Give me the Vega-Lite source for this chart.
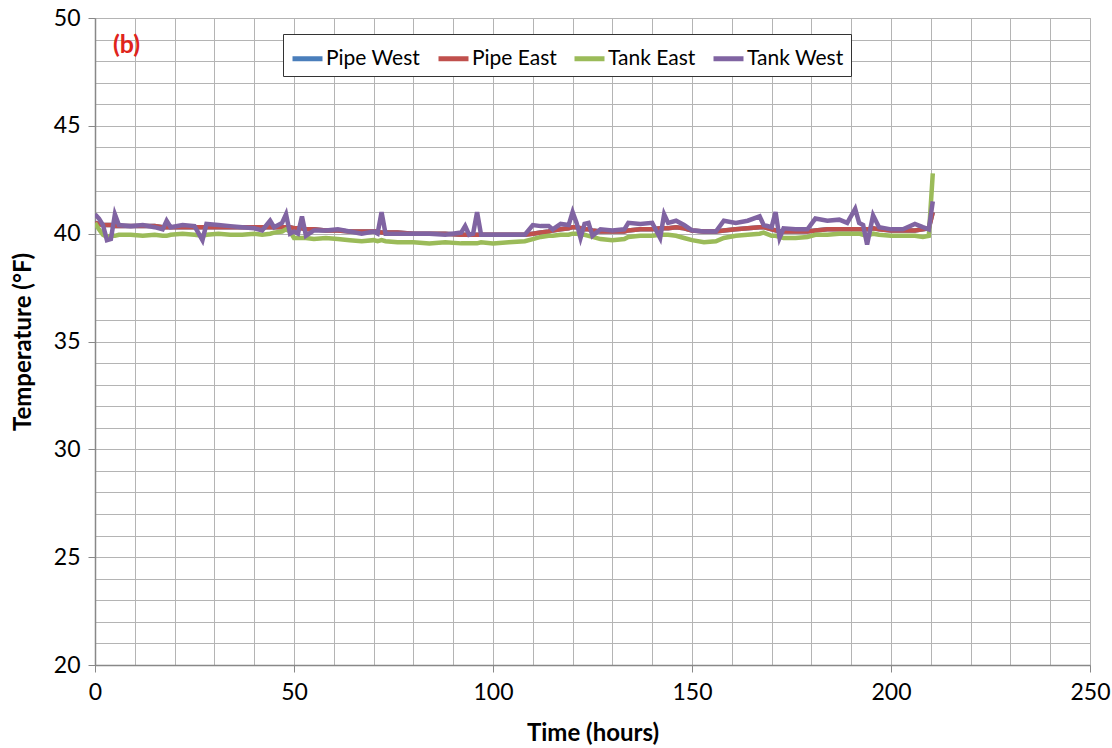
{
  "$schema": "https://vega.github.io/schema/vega-lite/v6.json",
  "width": 995,
  "height": 647,
  "autosize": {"type": "none"},
  "padding": {"left": 95, "top": 18, "right": 22, "bottom": 83},
  "background": "white",
  "title": {"text": "(b)", "anchor": "start", "orient": "top", "frame": "group", "color": "#e0241b", "fontSize": 25, "fontWeight": "bold", "font": "Lato", "dx": 18, "dy": 51, "offset": 0},
  "data": {"values": [
    {"t": 0, "Pipe West": 40.5, "Pipe East": 40.5, "Tank East": 40.5, "Tank West": 40.9},
    {"t": 1, "Pipe West": 40.45, "Pipe East": 40.45, "Tank East": 40.2, "Tank West": 40.7},
    {"t": 2, "Pipe West": 40.4, "Pipe East": 40.4, "Tank East": 39.95, "Tank West": 40.4},
    {"t": 3, "Pipe West": 40.4, "Pipe East": 40.4, "Tank East": 39.85, "Tank West": 39.7},
    {"t": 4, "Pipe West": 40.4, "Pipe East": 40.4, "Tank East": 39.9, "Tank West": 39.75},
    {"t": 5, "Pipe West": 40.35, "Pipe East": 40.35, "Tank East": 39.9, "Tank West": 40.9},
    {"t": 6, "Pipe West": 40.35, "Pipe East": 40.35, "Tank East": 39.95, "Tank West": 40.4},
    {"t": 9, "Pipe West": 40.35, "Pipe East": 40.35, "Tank East": 39.95, "Tank West": 40.35},
    {"t": 12, "Pipe West": 40.35, "Pipe East": 40.35, "Tank East": 39.9, "Tank West": 40.4},
    {"t": 15, "Pipe West": 40.35, "Pipe East": 40.35, "Tank East": 39.95, "Tank West": 40.3},
    {"t": 17, "Pipe West": 40.3, "Pipe East": 40.3, "Tank East": 39.9, "Tank West": 40.2},
    {"t": 18, "Pipe West": 40.3, "Pipe East": 40.3, "Tank East": 39.9, "Tank West": 40.6},
    {"t": 19, "Pipe West": 40.3, "Pipe East": 40.3, "Tank East": 39.95, "Tank West": 40.3},
    {"t": 22, "Pipe West": 40.3, "Pipe East": 40.3, "Tank East": 40.0, "Tank West": 40.4},
    {"t": 25, "Pipe West": 40.3, "Pipe East": 40.3, "Tank East": 39.95, "Tank West": 40.35},
    {"t": 27, "Pipe West": 40.3, "Pipe East": 40.3, "Tank East": 39.9, "Tank West": 39.7},
    {"t": 28, "Pipe West": 40.3, "Pipe East": 40.3, "Tank East": 39.95, "Tank West": 40.45},
    {"t": 31, "Pipe West": 40.3, "Pipe East": 40.3, "Tank East": 40.0, "Tank West": 40.4},
    {"t": 34, "Pipe West": 40.3, "Pipe East": 40.3, "Tank East": 39.95, "Tank West": 40.35},
    {"t": 37, "Pipe West": 40.3, "Pipe East": 40.3, "Tank East": 39.95, "Tank West": 40.3},
    {"t": 40, "Pipe West": 40.3, "Pipe East": 40.3, "Tank East": 40.0, "Tank West": 40.25},
    {"t": 42, "Pipe West": 40.3, "Pipe East": 40.3, "Tank East": 39.95, "Tank West": 40.15},
    {"t": 44, "Pipe West": 40.3, "Pipe East": 40.3, "Tank East": 40.0, "Tank West": 40.6},
    {"t": 45, "Pipe West": 40.3, "Pipe East": 40.3, "Tank East": 40.05, "Tank West": 40.3},
    {"t": 47, "Pipe West": 40.3, "Pipe East": 40.3, "Tank East": 40.1, "Tank West": 40.5},
    {"t": 48, "Pipe West": 40.3, "Pipe East": 40.3, "Tank East": 40.2, "Tank West": 40.9},
    {"t": 49, "Pipe West": 40.3, "Pipe East": 40.3, "Tank East": 40.1, "Tank West": 40.0},
    {"t": 50, "Pipe West": 40.25, "Pipe East": 40.25, "Tank East": 39.8, "Tank West": 40.1},
    {"t": 51, "Pipe West": 40.25, "Pipe East": 40.25, "Tank East": 39.8, "Tank West": 40.0},
    {"t": 52, "Pipe West": 40.25, "Pipe East": 40.25, "Tank East": 39.8, "Tank West": 40.8},
    {"t": 53, "Pipe West": 40.2, "Pipe East": 40.2, "Tank East": 39.8, "Tank West": 39.9},
    {"t": 55, "Pipe West": 40.2, "Pipe East": 40.2, "Tank East": 39.75, "Tank West": 40.15},
    {"t": 58, "Pipe West": 40.15, "Pipe East": 40.15, "Tank East": 39.8, "Tank West": 40.15},
    {"t": 61, "Pipe West": 40.15, "Pipe East": 40.15, "Tank East": 39.75, "Tank West": 40.2},
    {"t": 64, "Pipe West": 40.1, "Pipe East": 40.1, "Tank East": 39.7, "Tank West": 40.1},
    {"t": 67, "Pipe West": 40.1, "Pipe East": 40.1, "Tank East": 39.65, "Tank West": 40.0},
    {"t": 70, "Pipe West": 40.1, "Pipe East": 40.1, "Tank East": 39.7, "Tank West": 40.1},
    {"t": 71, "Pipe West": 40.1, "Pipe East": 40.1, "Tank East": 39.65, "Tank West": 40.0},
    {"t": 72, "Pipe West": 40.05, "Pipe East": 40.05, "Tank East": 39.7, "Tank West": 41.0},
    {"t": 73, "Pipe West": 40.05, "Pipe East": 40.05, "Tank East": 39.65, "Tank West": 40.0},
    {"t": 76, "Pipe West": 40.05, "Pipe East": 40.05, "Tank East": 39.6, "Tank West": 40.0},
    {"t": 80, "Pipe West": 40.0, "Pipe East": 40.0, "Tank East": 39.6, "Tank West": 40.0},
    {"t": 84, "Pipe West": 40.0, "Pipe East": 40.0, "Tank East": 39.55, "Tank West": 40.0},
    {"t": 88, "Pipe West": 40.0, "Pipe East": 40.0, "Tank East": 39.6, "Tank West": 39.95},
    {"t": 92, "Pipe West": 39.95, "Pipe East": 39.95, "Tank East": 39.55, "Tank West": 40.05},
    {"t": 93, "Pipe West": 39.95, "Pipe East": 39.95, "Tank East": 39.55, "Tank West": 40.35},
    {"t": 94, "Pipe West": 39.95, "Pipe East": 39.95, "Tank East": 39.55, "Tank West": 39.95},
    {"t": 95, "Pipe West": 39.95, "Pipe East": 39.95, "Tank East": 39.55, "Tank West": 40.0},
    {"t": 96, "Pipe West": 39.95, "Pipe East": 39.95, "Tank East": 39.55, "Tank West": 41.0},
    {"t": 97, "Pipe West": 39.95, "Pipe East": 39.95, "Tank East": 39.6, "Tank West": 39.95},
    {"t": 100, "Pipe West": 39.95, "Pipe East": 39.95, "Tank East": 39.55, "Tank West": 39.95},
    {"t": 104, "Pipe West": 39.95, "Pipe East": 39.95, "Tank East": 39.6, "Tank West": 39.95},
    {"t": 108, "Pipe West": 39.95, "Pipe East": 39.95, "Tank East": 39.65, "Tank West": 39.95},
    {"t": 110, "Pipe West": 40.0, "Pipe East": 40.0, "Tank East": 39.75, "Tank West": 40.4},
    {"t": 112, "Pipe West": 40.05, "Pipe East": 40.05, "Tank East": 39.85, "Tank West": 40.35},
    {"t": 114, "Pipe West": 40.1, "Pipe East": 40.1, "Tank East": 39.9, "Tank West": 40.35},
    {"t": 115, "Pipe West": 40.15, "Pipe East": 40.15, "Tank East": 39.9, "Tank West": 40.2},
    {"t": 117, "Pipe West": 40.2, "Pipe East": 40.2, "Tank East": 39.95, "Tank West": 40.45},
    {"t": 119, "Pipe West": 40.25, "Pipe East": 40.25, "Tank East": 39.95, "Tank West": 40.4},
    {"t": 120, "Pipe West": 40.3, "Pipe East": 40.3, "Tank East": 40.0, "Tank West": 41.0},
    {"t": 121, "Pipe West": 40.3, "Pipe East": 40.3, "Tank East": 40.0, "Tank West": 40.5},
    {"t": 122, "Pipe West": 40.25, "Pipe East": 40.25, "Tank East": 39.95, "Tank West": 39.8},
    {"t": 123, "Pipe West": 40.2, "Pipe East": 40.2, "Tank East": 39.95, "Tank West": 40.45},
    {"t": 124, "Pipe West": 40.2, "Pipe East": 40.2, "Tank East": 39.9, "Tank West": 40.5},
    {"t": 125, "Pipe West": 40.15, "Pipe East": 40.15, "Tank East": 39.85, "Tank West": 39.9},
    {"t": 127, "Pipe West": 40.1, "Pipe East": 40.1, "Tank East": 39.75, "Tank West": 40.2},
    {"t": 130, "Pipe West": 40.1, "Pipe East": 40.1, "Tank East": 39.7, "Tank West": 40.15},
    {"t": 133, "Pipe West": 40.1, "Pipe East": 40.1, "Tank East": 39.75, "Tank West": 40.2},
    {"t": 134, "Pipe West": 40.15, "Pipe East": 40.15, "Tank East": 39.85, "Tank West": 40.5},
    {"t": 137, "Pipe West": 40.2, "Pipe East": 40.2, "Tank East": 39.9, "Tank West": 40.45},
    {"t": 140, "Pipe West": 40.2, "Pipe East": 40.2, "Tank East": 39.9, "Tank West": 40.5},
    {"t": 142, "Pipe West": 40.25, "Pipe East": 40.25, "Tank East": 39.95, "Tank West": 39.8},
    {"t": 143, "Pipe West": 40.25, "Pipe East": 40.25, "Tank East": 39.95, "Tank West": 40.9},
    {"t": 144, "Pipe West": 40.25, "Pipe East": 40.25, "Tank East": 39.95, "Tank West": 40.5},
    {"t": 146, "Pipe West": 40.3, "Pipe East": 40.3, "Tank East": 39.9, "Tank West": 40.6},
    {"t": 148, "Pipe West": 40.25, "Pipe East": 40.25, "Tank East": 39.8, "Tank West": 40.4},
    {"t": 150, "Pipe West": 40.15, "Pipe East": 40.15, "Tank East": 39.7, "Tank West": 40.15},
    {"t": 153, "Pipe West": 40.1, "Pipe East": 40.1, "Tank East": 39.6, "Tank West": 40.1},
    {"t": 156, "Pipe West": 40.1, "Pipe East": 40.1, "Tank East": 39.65, "Tank West": 40.1},
    {"t": 158, "Pipe West": 40.15, "Pipe East": 40.15, "Tank East": 39.8, "Tank West": 40.6},
    {"t": 161, "Pipe West": 40.2, "Pipe East": 40.2, "Tank East": 39.9, "Tank West": 40.5},
    {"t": 164, "Pipe West": 40.25, "Pipe East": 40.25, "Tank East": 39.95, "Tank West": 40.6},
    {"t": 167, "Pipe West": 40.3, "Pipe East": 40.3, "Tank East": 40.0, "Tank West": 40.8},
    {"t": 168, "Pipe West": 40.3, "Pipe East": 40.3, "Tank East": 40.05, "Tank West": 40.4},
    {"t": 170, "Pipe West": 40.2, "Pipe East": 40.2, "Tank East": 39.9, "Tank West": 40.3},
    {"t": 171, "Pipe West": 40.15, "Pipe East": 40.15, "Tank East": 39.9, "Tank West": 41.0},
    {"t": 172, "Pipe West": 40.1, "Pipe East": 40.1, "Tank East": 39.85, "Tank West": 39.8},
    {"t": 173, "Pipe West": 40.1, "Pipe East": 40.1, "Tank East": 39.8, "Tank West": 40.25},
    {"t": 176, "Pipe West": 40.1, "Pipe East": 40.1, "Tank East": 39.8, "Tank West": 40.2},
    {"t": 179, "Pipe West": 40.1, "Pipe East": 40.1, "Tank East": 39.85, "Tank West": 40.2},
    {"t": 181, "Pipe West": 40.15, "Pipe East": 40.15, "Tank East": 39.95, "Tank West": 40.7},
    {"t": 184, "Pipe West": 40.2, "Pipe East": 40.2, "Tank East": 39.95, "Tank West": 40.6},
    {"t": 187, "Pipe West": 40.2, "Pipe East": 40.2, "Tank East": 40.0, "Tank West": 40.65},
    {"t": 189, "Pipe West": 40.2, "Pipe East": 40.2, "Tank East": 40.0, "Tank West": 40.5},
    {"t": 191, "Pipe West": 40.2, "Pipe East": 40.2, "Tank East": 40.0, "Tank West": 41.15},
    {"t": 192, "Pipe West": 40.2, "Pipe East": 40.2, "Tank East": 40.0, "Tank West": 40.5},
    {"t": 193, "Pipe West": 40.2, "Pipe East": 40.2, "Tank East": 39.95, "Tank West": 40.4},
    {"t": 194, "Pipe West": 40.2, "Pipe East": 40.2, "Tank East": 39.9, "Tank West": 39.5},
    {"t": 195.5, "Pipe West": 40.25, "Pipe East": 40.25, "Tank East": 40.0, "Tank West": 40.85},
    {"t": 197, "Pipe West": 40.2, "Pipe East": 40.2, "Tank East": 39.95, "Tank West": 40.3},
    {"t": 200, "Pipe West": 40.15, "Pipe East": 40.15, "Tank East": 39.9, "Tank West": 40.2},
    {"t": 203, "Pipe West": 40.15, "Pipe East": 40.15, "Tank East": 39.9, "Tank West": 40.2},
    {"t": 206, "Pipe West": 40.15, "Pipe East": 40.15, "Tank East": 39.9, "Tank West": 40.45},
    {"t": 208, "Pipe West": 40.2, "Pipe East": 40.2, "Tank East": 39.85, "Tank West": 40.3},
    {"t": 209.5, "Pipe West": 40.25, "Pipe East": 40.25, "Tank East": 39.9, "Tank West": 40.2},
    {"t": 210.5, "Pipe West": 41.0, "Pipe East": 41.0, "Tank East": 42.8, "Tank West": 41.5}
  ]},
  "transform": [{"fold": ["Pipe West", "Pipe East", "Tank East", "Tank West"], "as": ["series", "temp"]}],
  "mark": {"type": "line", "strokeWidth": 4.5, "clip": true},
  "encoding": {
    "x": {
      "field": "t", "type": "quantitative",
      "scale": {"domain": [0, 250], "nice": false},
      "axis": {
        "values": [0,10,20,30,40,50,60,70,80,90,100,110,120,130,140,150,160,170,180,190,200,210,220,230,240,250],
        "labelExpr": "datum.value % 50 === 0 ? datum.label : ''",
        "tickSize": {"expr": "datum.value % 50 === 0 ? 7 : 0"},
        "tickColor": "#888888",
        "grid": true, "gridColor": "#b4b4b4", "gridWidth": 1,
        "domainColor": "#888888", "domainWidth": 1.5,
        "labelFont": "Lato", "labelFontSize": 23, "labelColor": "#000000", "labelPadding": 9, "labelFlush": false,
        "title": "Time (hours)", "titleFont": "Lato", "titleFontSize": 24, "titleFontWeight": "bold", "titleColor": "#000000", "titlePadding": 17
      }
    },
    "y": {
      "field": "temp", "type": "quantitative",
      "scale": {"domain": [20, 50], "nice": false, "zero": false},
      "axis": {
        "values": [20,21,22,23,24,25,26,27,28,29,30,31,32,33,34,35,36,37,38,39,40,41,42,43,44,45,46,47,48,49,50],
        "labelExpr": "datum.value % 5 === 0 ? datum.label : ''",
        "tickSize": {"expr": "datum.value % 5 === 0 ? 7 : 0"},
        "tickColor": "#888888",
        "grid": true, "gridColor": "#b4b4b4", "gridWidth": 1,
        "domainColor": "#888888", "domainWidth": 1.5,
        "labelFont": "Lato", "labelFontSize": 23, "labelColor": "#000000", "labelPadding": 8, "labelFlush": false,
        "title": "Temperature (°F)", "titleFont": "Lato", "titleFontSize": 24, "titleFontWeight": "bold", "titleColor": "#000000", "titlePadding": 18
      }
    },
    "color": {
      "field": "series", "type": "nominal",
      "scale": {"domain": ["Pipe West", "Pipe East", "Tank East", "Tank West"], "range": ["#4a7ebb", "#c0504d", "#9bbb59", "#8064a2"]},
      "legend": {
        "title": null, "orient": "none", "legendX": 188, "legendY": 16, "direction": "horizontal",
        "strokeColor": "#333333", "fillColor": "#ffffff", "padding": 7,
        "symbolType": "stroke", "symbolStrokeWidth": 5, "symbolSize": 900, "symbolOffset": 0,
        "labelFont": "Lato", "labelFontSize": 21, "labelColor": "#000000", "labelOffset": 1, "columnPadding": 7
      }
    }
  },
  "config": {"view": {"stroke": "#b4b4b4"}}
}
